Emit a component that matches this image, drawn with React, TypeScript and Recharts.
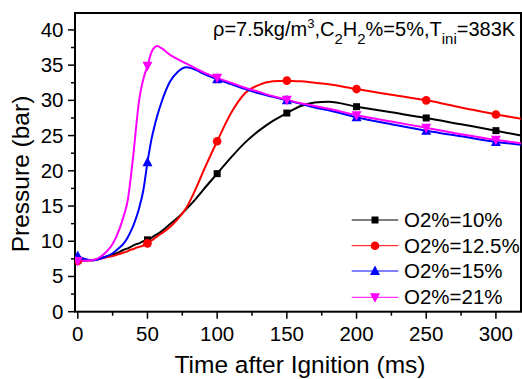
import { Customized, Line, LineChart, XAxis, YAxis } from "recharts";

const W = 522;
const H = 379;
const PLOT = { left: 75, top: 13, right: 521, bottom: 311.7 };
const FONT = "'Liberation Sans', Arial, sans-serif";

// time after ignition (ms)
const time = [
  0, 10, 20, 25, 30, 33, 36, 38, 40, 42, 44, 47, 50, 53, 55, 57, 60, 66, 72, 78, 85, 90, 100, 110, 120,
  130, 140, 150, 160, 170, 180, 200, 225, 250, 275, 300, 318
];

// pressure (bar) per O2 fraction
const o2At10 = [
  7.3, 7.3, 7.8, 8.1, 8.5, 8.8, 9.0, 9.2, 9.4, 9.6, 9.7, 10.0, 10.2, 10.5, 10.8, 11.0, 11.4, 12.4, 13.4,
  14.6, 16.1, 17.3, 19.6, 21.9, 24.0, 25.7, 27.1, 28.2, 29.2, 29.7, 29.8, 29.1, 28.3, 27.5, 26.6, 25.7, 25.0
];
const o2At125 = [
  7.2, 7.3, 7.7, 7.9, 8.2, 8.4, 8.6, 8.8, 8.9, 9.1, 9.2, 9.4, 9.7, 10.1, 10.4, 10.7, 11.1, 12.0, 13.2,
  14.8, 17.6, 19.9, 24.2, 28.2, 31.0, 32.2, 32.7, 32.8, 32.7, 32.5, 32.3, 31.6, 30.8, 30.0, 29.0, 28.0, 27.4
];
const o2At15 = [
  7.9, 7.3, 7.8, 8.3, 9.1, 9.7, 10.6, 11.4, 12.3, 13.4, 14.7, 17.2, 21.2, 24.6, 26.3, 27.8, 29.7, 32.6,
  34.1, 34.7, 34.3, 33.8, 33.0, 32.3, 31.6, 31.0, 30.5, 30.0, 29.5, 29.0, 28.6, 27.6, 26.6, 25.7, 24.9, 24.1,
  23.7
];
const o2At21 = [
  7.2, 7.3, 8.4, 9.6, 11.8, 13.6, 16.0, 19.0, 22.5, 26.5, 30.0, 33.0, 34.9, 36.9, 37.5, 37.7, 37.4, 36.5,
  35.8, 35.2, 34.5, 34.0, 33.2, 32.5, 31.8, 31.2, 30.6, 30.1, 29.6, 29.2, 28.8, 27.9, 27.0, 26.1, 25.2, 24.4,
  23.9
];

const xTicks = [0, 25, 50, 75, 100, 125, 150, 175, 200, 225, 250, 275, 300];
const yTicks = [0, 2.5, 5, 7.5, 10, 12.5, 15, 17.5, 20, 22.5, 25, 27.5, 30, 32.5, 35, 37.5, 40];

const rows = time.map((t, i) => ({
  t,
  o10: o2At10[i],
  o125: o2At125[i],
  o15: o2At15[i],
  o21: o2At21[i]
}));

type Shape = "square" | "circle" | "up" | "down";

const series: { key: string; name: string; color: string; shape: Shape }[] = [
  { key: "o10", name: "O2%=10%", color: "#000000", shape: "square" },
  { key: "o125", name: "O2%=12.5%", color: "#ff0000", shape: "circle" },
  { key: "o15", name: "O2%=15%", color: "#0000ff", shape: "up" },
  { key: "o21", name: "O2%=21%", color: "#ff00ff", shape: "down" }
];

function Marker({ x, y, shape, color }: { x: number; y: number; shape: Shape; color: string }) {
  if (shape === "square") return <rect x={x - 3.5} y={y - 3.5} width={7} height={7} fill={color} />;
  if (shape === "circle") return <circle cx={x} cy={y} r={4.3} fill={color} />;
  if (shape === "up")
    return <polygon points={`${x},${y - 5.5} ${x + 5},${y + 4} ${x - 5},${y + 4}`} fill={color} />;
  return <polygon points={`${x},${y + 5.5} ${x + 5},${y - 4} ${x - 5},${y - 4}`} fill={color} />;
}

const makeDot = (shape: Shape, color: string) => (props: any) => {
  const { cx, cy, payload, index } = props;
  if (payload.t % 50 !== 0) return <g key={index} />;
  return (
    <g key={index}>
      <Marker x={cx} y={cy} shape={shape} color={color} />
    </g>
  );
};

function YTick(props: any) {
  const { y, payload } = props;
  const major = payload.value % 5 === 0;
  return (
    <g>
      <line x1={PLOT.left - (major ? 7 : 4)} x2={PLOT.left} y1={y} y2={y} stroke="#000" strokeWidth={1.5} />
      {major && (
        <text x={63.5} y={y + 7} textAnchor="end" fontSize={20.5} fontFamily={FONT} fill="#000">
          {payload.value}
        </text>
      )}
    </g>
  );
}

function XTick(props: any) {
  const { x, payload } = props;
  const major = payload.value % 50 === 0;
  return (
    <g>
      <line x1={x} x2={x} y1={PLOT.bottom} y2={PLOT.bottom + (major ? 7 : 4)} stroke="#000" strokeWidth={1.5} />
      {major && (
        <text x={x} y={341} textAnchor="middle" fontSize={20.5} fontFamily={FONT} fill="#000">
          {payload.value}
        </text>
      )}
    </g>
  );
}

function Decorations() {
  const legendY = [220, 245.7, 271, 297.3];
  return (
    <g fontFamily={FONT} fill="#000">
      <rect
        x={PLOT.left}
        y={PLOT.top}
        width={PLOT.right - PLOT.left}
        height={PLOT.bottom - PLOT.top}
        fill="none"
        stroke="#000"
        strokeWidth={2}
      />
      <text x={213} y={36} fontSize={20}>
        ρ=7.5kg/m
        <tspan dy={-8} fontSize={13}>3</tspan>
        <tspan dy={8}>,C</tspan>
        <tspan dy={8} fontSize={15}>2</tspan>
        <tspan dy={-8}>H</tspan>
        <tspan dy={8} fontSize={15}>2</tspan>
        <tspan dy={-8}>%=5%,T</tspan>
        <tspan dy={8} fontSize={15}>ini</tspan>
        <tspan dy={-8}>=383K</tspan>
      </text>
      {series.map((s, i) => (
        <g key={s.key}>
          <line x1={351.7} x2={398.3} y1={legendY[i]} y2={legendY[i]} stroke={s.color} strokeWidth={1} />
          <Marker x={375} y={legendY[i]} shape={s.shape} color={s.color} />
          <text x={404} y={legendY[i] + 7} fontSize={20.5}>
            {s.name}
          </text>
        </g>
      ))}
      <text x={300} y={373} textAnchor="middle" fontSize={24.5}>
        Time after Ignition (ms)
      </text>
      <text x={29} y={174} textAnchor="middle" fontSize={24.5} transform="rotate(-90, 29, 174)">
        Pressure (bar)
      </text>
    </g>
  );
}

export default function App() {
  return (
    <div style={{ position: "absolute", left: 0, top: 0, width: W, height: H, background: "#fff" }}>
      <LineChart
        width={W}
        height={H}
        data={rows}
        margin={{ top: PLOT.top, right: W - PLOT.right, left: 0, bottom: 0 }}
      >
        <XAxis
          dataKey="t"
          type="number"
          domain={[-2, 318]}
          ticks={xTicks}
          interval={0}
          allowDataOverflow
          axisLine={false}
          tickLine={false}
          tick={<XTick />}
          height={H - PLOT.bottom}
        />
        <YAxis
          type="number"
          domain={[0, 42.4]}
          ticks={yTicks}
          interval={0}
          allowDataOverflow
          axisLine={false}
          tickLine={false}
          tick={<YTick />}
          width={PLOT.left}
        />
        {series.map((s) => (
          <Line
            key={s.key}
            dataKey={s.key}
            type="monotone"
            stroke={s.color}
            strokeWidth={2}
            dot={makeDot(s.shape, s.color)}
            activeDot={false}
            isAnimationActive={false}
          />
        ))}
        <Customized component={<Decorations />} />
      </LineChart>
    </div>
  );
}
